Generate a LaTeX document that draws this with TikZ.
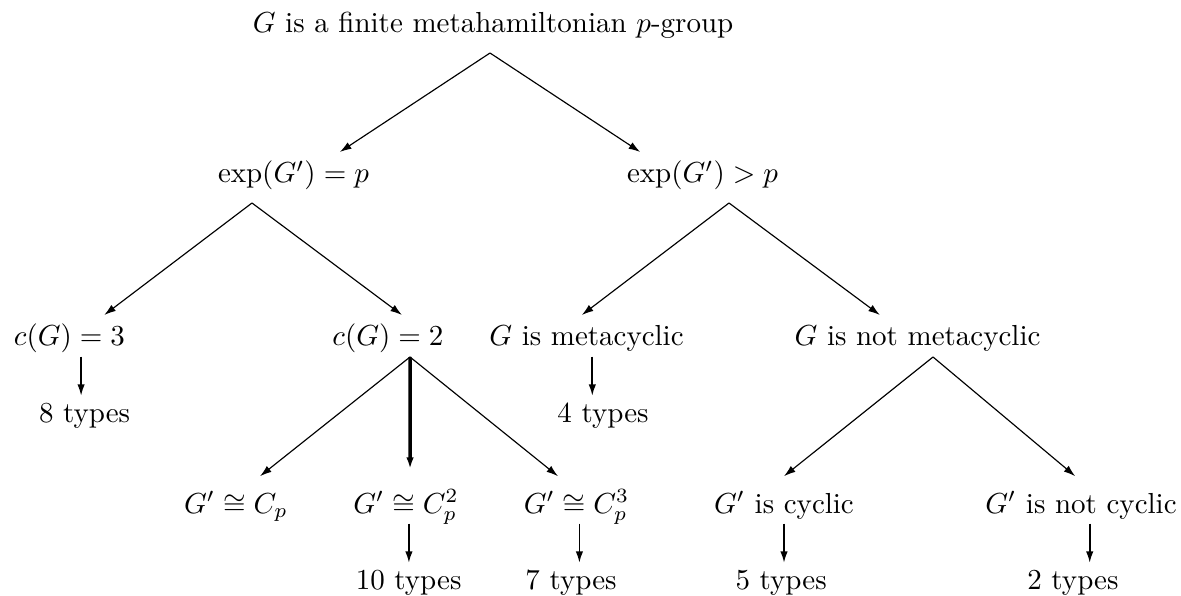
\documentclass[tikz,border=0pt]{standalone}
\usepackage{amsmath,amssymb}
\usetikzlibrary{arrows.meta, positioning}

\begin{document}
\begin{tikzpicture}[
  x=0.345pt, y=-0.345pt,
  lbl/.style={
    anchor=base, inner sep=3pt,
    text height=7.5pt, text depth=2.5pt
  },
  arr/.style={-{Latex[length=4pt,width=2.6pt]}, thin},
  varr/.style={-{Latex[length=4pt,width=2.6pt]}, semithick,
    shorten <=-2pt, shorten >=-1.5pt},
  node distance=10pt
]
\useasboundingbox (0,0) rectangle (1181,596);

%% === ROOT ===
\node[lbl] (root) at (493,33) {$G$ is a finite metahamiltonian $p$-group};
\coordinate (rootfork) at (490,53);

%% === EXPONENT OF G' ===
\node[lbl] (expeq) at (293.5,183) {$\exp(G')=p$};
\node[lbl] (expgt) at (702.5,183) {$\exp(G')>p$};
\draw[arr] (rootfork) -- ([xshift=16pt]expeq.north);
\draw[arr] (rootfork) -- ([xshift=-21.5pt]expgt.north);

\coordinate (eqfork) at (252,203);
\coordinate (gtfork) at (729,203);

%% === CLASS / METACYCLIC ===
\node[lbl] (cthree) at (69.5,346) {$c(G)=3$};
\node[lbl] (ctwo) at (388,346) {$c(G)=2$};
\node[lbl] (meta) at (586.5,346) {$G$ is metacyclic};
\node[lbl] (nometa) at (917.5,346) {$G$ is not metacyclic};
\draw[arr] (eqfork) -- ([xshift=12pt]cthree.north);
\draw[arr] (eqfork) -- ([xshift=4.8pt]ctwo.north);
\draw[arr] (gtfork) -- ([xshift=-1.6pt]meta.north);
\draw[arr] (gtfork) -- ([xshift=-13pt]nometa.north);

\node[lbl, below=of cthree, xshift=5.2pt] (tcthree) {8 types};
\node[lbl, below=of meta, xshift=5.7pt] (tmeta) {4 types};
\draw[varr] ([xshift=4pt]cthree.south) -- ([xshift=4pt]cthree.south |- tcthree.north);
\draw[varr] ([xshift=2pt]meta.south) -- ([xshift=2pt]meta.south |- tmeta.north);

\coordinate (twofork) at (410,357);
\coordinate (nofork) at (933,357);

%% === DERIVED SUBGROUP ===
\node[lbl] (cpone) at (236,513) {$G'\cong C_p$};
\node[lbl] (cptwo) at (406,513) {$G'\cong C_p^2$};
\node[lbl] (cpthree) at (576.5,513) {$G'\cong C_p^3$};
\node[lbl] (cyc) at (784,513) {$G'$ is cyclic};
\node[lbl] (nocyc) at (1081,513) {$G'$ is not cyclic};
\draw[arr] (twofork) -- ([xshift=8.3pt,yshift=2pt]cpone.north);
\draw[arr, line width=1.2pt] (twofork) -- ([xshift=1.4pt,yshift=4.5pt]cptwo.north);
\draw[arr] (twofork) -- ([xshift=-6.4pt,yshift=2pt]cpthree.north);
\draw[arr] (nofork) -- ([yshift=2pt]cyc.north);
\draw[arr] (nofork) -- ([xshift=-2pt,yshift=2pt]nocyc.north);

\node[lbl, below=of cptwo, xshift=0.9pt] (tcptwo) {10 types};
\node[lbl, below=of cpthree, xshift=-1.9pt] (tcpthree) {7 types};
\node[lbl, below=of cyc, xshift=-1pt] (tcyc) {5 types};
\node[lbl, below=of nocyc, xshift=-2.8pt] (tnocyc) {2 types};
\draw[varr] ([xshift=1pt]cptwo.south) -- ([xshift=1pt]cptwo.south |- tcptwo.north);
\draw[varr] ([xshift=1pt]cpthree.south) -- ([xshift=1pt]cpthree.south |- tcpthree.north);
\draw[varr] (cyc.south) -- (cyc.south |- tcyc.north);
\draw[varr] ([xshift=3pt]nocyc.south) -- ([xshift=3pt]nocyc.south |- tnocyc.north);

\end{tikzpicture}
\end{document}
